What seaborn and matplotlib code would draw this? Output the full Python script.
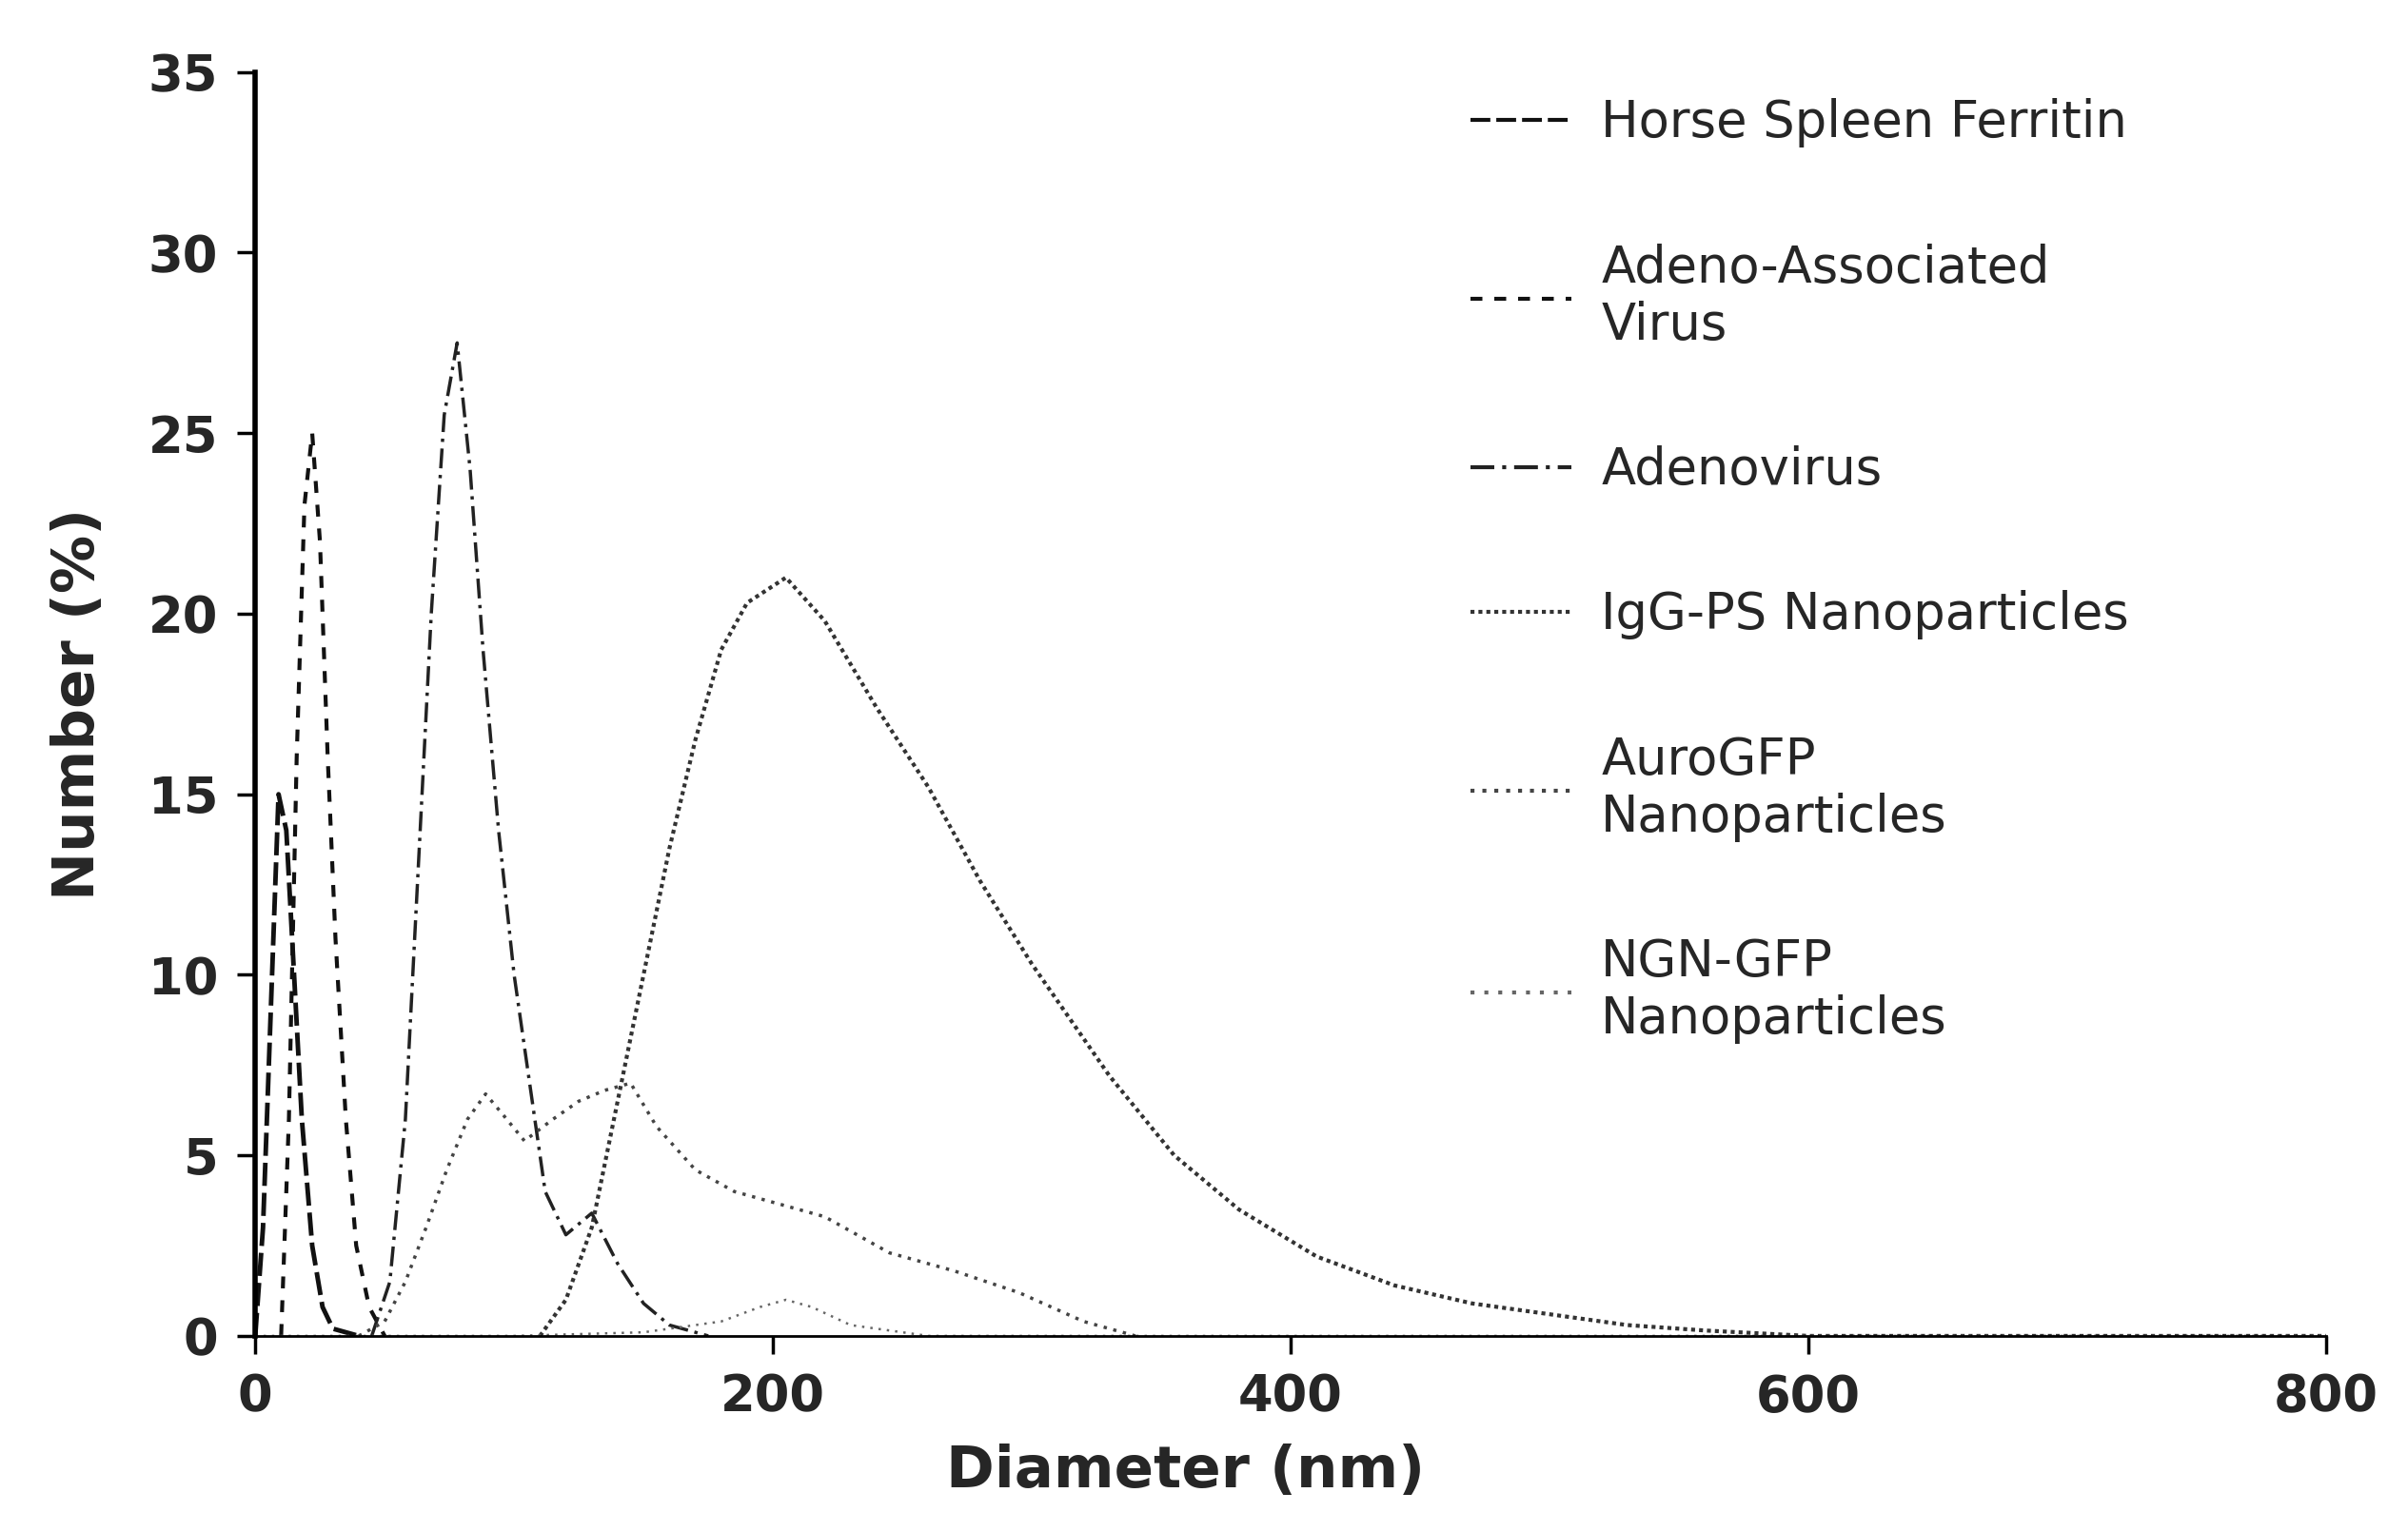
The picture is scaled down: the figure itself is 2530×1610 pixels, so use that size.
import matplotlib
matplotlib.use("Agg")
import matplotlib.pyplot as plt
import seaborn as sns
import pandas as pd

sns.set_theme(style="white")
plt.rcParams['font.family'] = ['DejaVu Sans']

# ---- data ----
ferritin_x = [0, 3, 6, 9, 12, 15, 18, 22, 26, 30, 40]
ferritin_y = [0, 3, 9, 15, 14, 10, 6, 2.5, 0.8, 0.2, 0]

aav_x = [10, 13, 16, 19, 22, 25, 28, 31, 35, 39, 44, 50]
aav_y = [0, 6, 16, 23, 25, 22, 16, 11, 6, 2.5, 0.8, 0]

adeno_x = [45, 52, 58, 63, 68, 73, 78, 83, 88, 94, 100, 106, 112, 120, 130, 140, 150, 160, 175]
adeno_y = [0, 1.5, 6, 13, 20, 25.5, 27.5, 24, 19, 14, 10, 7, 4, 2.8, 3.4, 2, 0.9, 0.3, 0]

igg_x = [110, 120, 130, 140, 150, 160, 170, 180, 190, 205, 220, 240, 260, 280, 300, 330, 355, 380, 410, 440, 470, 500, 530, 560, 600, 700, 800]
igg_y = [0, 1, 3, 6.5, 10, 13.5, 16.5, 19, 20.3, 21, 19.8, 17.4, 15.2, 12.6, 10.3, 7.2, 5, 3.5, 2.2, 1.4, 0.9, 0.6, 0.3, 0.15, 0, 0, 0]

auro_x = [40, 50, 58, 66, 74, 82, 89, 96, 104, 115, 125, 135, 145, 155, 170, 185, 200, 220, 245, 270, 295, 320, 340]
auro_y = [0, 0.4, 1.5, 3, 4.6, 6, 6.7, 6.1, 5.4, 6, 6.5, 6.8, 7, 5.8, 4.6, 4, 3.7, 3.3, 2.3, 1.8, 1.2, 0.4, 0]

ngn_x = [0, 100, 150, 180, 195, 205, 215, 230, 260, 400, 600, 800]
ngn_y = [0, 0, 0.1, 0.4, 0.8, 1.0, 0.8, 0.3, 0, 0, 0, 0]

labels = ["Horse Spleen Ferritin", "Adeno-Associated\nVirus", "Adenovirus",
          "IgG-PS Nanoparticles", "AuroGFP\nNanoparticles", "NGN-GFP\nNanoparticles"]
xs = [ferritin_x, aav_x, adeno_x, igg_x, auro_x, ngn_x]
ys = [ferritin_y, aav_y, adeno_y, igg_y, auro_y, ngn_y]
styles = [(0, (5, 1.5)), (0, (3, 3)), (0, (6, 2, 1, 2)), (0, (1, 1)), (0, (1, 2)), (0, (1, 2.5))]
widths = [3.5, 3.0, 2.5, 3.0, 2.5, 1.8]
colors = ["#111111", "#111111", "#222222", "#333333", "#444444", "#666666"]

fig = plt.figure(figsize=(25.3, 16.1), dpi=100)
ax = fig.add_axes([0.106, 0.128, 0.860, 0.825])

for x, y, lab, ls, lw, c in zip(xs, ys, labels, styles, widths, colors):
    df = pd.DataFrame({"Diameter": x, "Number": y})
    sns.lineplot(data=df, x="Diameter", y="Number", ax=ax, label=lab, color=c,
                 linestyle=ls, linewidth=lw, sort=False)

ax.set_xlim(0, 800)
ax.set_ylim(0, 35)
ax.set_xticks([0, 200, 400, 600, 800])
ax.set_yticks([0, 5, 10, 15, 20, 25, 30, 35])
ax.tick_params(axis='both', labelsize=38, length=14, width=2.5, direction='out', color='black',
               bottom=True, left=True, pad=14)
for lbl in ax.get_xticklabels() + ax.get_yticklabels():
    lbl.set_fontweight('bold')
for s in ['top', 'right']:
    ax.spines[s].set_visible(False)
ax.spines['left'].set_linewidth(4)
ax.spines['bottom'].set_linewidth(2)
ax.spines['left'].set_color('black')
ax.spines['bottom'].set_color('black')
ax.set_xlabel("Diameter (nm)", fontsize=44, fontweight='bold')
ax.set_ylabel("Number (%)", fontsize=44, fontweight='bold')
ax.xaxis.set_label_coords(0.449, -0.085)
ax.yaxis.set_label_coords(-0.072, 0.50)

leg = ax.legend(loc='upper left', bbox_to_anchor=(0.565, 1.015), frameon=False, fontsize=38,
                handlelength=2.0, handletextpad=0.6, labelspacing=1.9)
for line in leg.get_lines():
    line.set_linewidth(3)

fig.savefig("out.png", dpi=100)
